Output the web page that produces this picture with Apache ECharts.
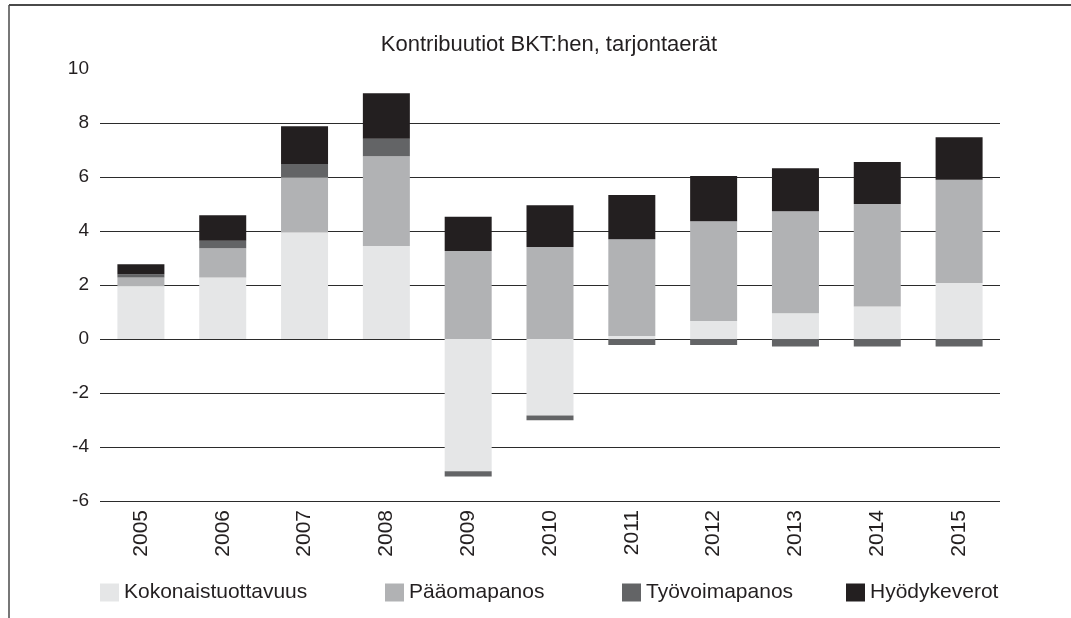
<!DOCTYPE html>
<html>
<head>
<meta charset="utf-8">
<script src="https://cdn.jsdelivr.net/npm/echarts@6/dist/echarts.min.js"></script>
<style>
  html, body { margin: 0; padding: 0; background: #fff; }
  #chart { width: 1071px; height: 618px; }
</style>
</head>
<body>
<div id="chart"></div>
<script>
// vuodet
const years = ['2005', '2006', '2007', '2008', '2009', '2010', '2011', '2012', '2013', '2014', '2015']
// kontribuutiot, %-yks.
const kokonaistuottavuus = [1.95, 2.28, 3.94, 3.44, -4.90, -2.83, 0.11, 0.67, 0.95, 1.20, 2.07]
const paaomapanos = [0.33, 1.08, 2.05, 3.33, 3.26, 3.41, 3.58, 3.69, 3.78, 3.80, 3.83]
const tyovoimapanos = [0.12, 0.28, 0.49, 0.65, -0.19, -0.18, -0.22, -0.22, -0.28, -0.28, -0.28]
const hyodykeverot = [0.37, 0.94, 1.40, 1.68, 1.27, 1.54, 1.64, 1.68, 1.59, 1.56, 1.57]
const yTicks = [-6, 10, 2]

const seriesNames = ['Kokonaistuottavuus', 'Pääomapanos', 'Työvoimapanos', 'Hyödykeverot']
const seriesData = [kokonaistuottavuus, paaomapanos, tyovoimapanos, hyodykeverot]
const colors = ['#e5e6e7', '#b1b2b4', '#636466', '#231f20']
const legendLeft = [95, 380, 617, 841]

const font = '"Liberation Sans", Arial, sans-serif'
const textColor = '#231f20'

let chart = echarts.init(document.getElementById('chart'))

// ylin ruudukkoviiva (10) piilotetaan
let gridColors = []
for (let v = yTicks[0]; v <= yTicks[1]; v += yTicks[2]) {
  gridColors.push(v === yTicks[1] ? 'rgba(0,0,0,0)' : '#2b2b2b')
}

let option = {
  backgroundColor: '#fff',
  animation: false,
  textStyle: { fontFamily: font, color: textColor },
  title: {
    text: 'Kontribuutiot BKT:hen, tarjontaerät',
    left: 544,
    textAlign: 'center',
    top: 29,
    textStyle: { fontFamily: font, fontSize: 22, fontWeight: 'normal', color: textColor }
  },
  legend: seriesNames.map((name, i) => ({
    data: [name],
    left: legendLeft[i],
    top: 577,
    itemWidth: 19,
    itemHeight: 18,
    itemGap: 0,
    icon: 'rect',
    textStyle: { fontFamily: font, fontSize: 21, color: textColor }
  })),
  grid: {
    left: 100,
    right: 71,
    top: 69,
    bottom: 117
  },
  xAxis: {
    type: 'category',
    data: years,
    axisLine: { show: false, onZero: false },
    axisTick: { show: false },
    axisLabel: {
      rotate: 90,
      margin: 9,
      fontFamily: font,
      fontSize: 21,
      color: textColor
    }
  },
  yAxis: {
    type: 'value',
    min: yTicks[0],
    max: yTicks[1],
    interval: yTicks[2],
    axisLine: { show: false },
    axisTick: { show: false },
    axisLabel: { margin: 11, fontFamily: font, fontSize: 19, color: textColor },
    splitLine: { show: true, lineStyle: { color: gridColors, width: 1 } }
  },
  series: seriesNames.map((name, i) => ({
    name: name,
    type: 'bar',
    stack: 'total',
    barWidth: 47,
    itemStyle: { color: colors[i] },
    data: seriesData[i]
  })),
  graphic: [
    {
      type: 'line',
      shape: { x1: 9, y1: 5, x2: 1071, y2: 5 },
      style: { stroke: '#4a4a4a', lineWidth: 2 }
    },
    {
      type: 'line',
      shape: { x1: 9, y1: 5, x2: 9, y2: 618 },
      style: { stroke: '#4a4a4a', lineWidth: 1.5 }
    }
  ]
}

chart.setOption(option)
</script>
</body>
</html>
